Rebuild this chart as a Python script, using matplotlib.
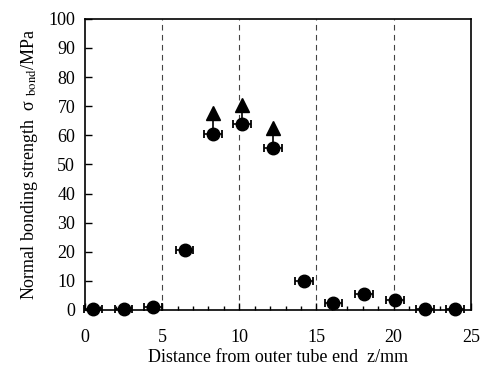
import matplotlib
matplotlib.use("Agg")
import matplotlib.pyplot as plt
from matplotlib.ticker import MultipleLocator

plt.rcParams['font.family'] = ['Liberation Serif', 'DejaVu Serif']
plt.rcParams['mathtext.fontset'] = 'stix'

z = [0.55, 2.5, 4.4, 6.45, 8.3, 10.2, 12.2, 14.2, 16.1, 18.1, 20.1, 22.0, 24.0]
sigma = [0.3, 0.3, 1.0, 20.5, 60.5, 64.0, 55.5, 10.0, 2.5, 5.5, 3.5, 0.5, 0.5]
z_err = [0.58] * len(z)
z_tri = [8.3, 10.2, 12.2]
sigma_tri = [67.5, 70.5, 62.5]
sigma_tri_base = [60.5, 64.0, 55.5]
vlines = [5, 10, 15, 20]

fig = plt.figure(figsize=(4.91, 3.69), dpi=100)
ax = fig.add_axes([0.173, 0.160, 0.786, 0.789])

for v in vlines:
    ax.axvline(v, color='#444444', lw=0.8, ls=(0, (5, 4)), zorder=1)

for x, yb, yt in zip(z_tri, sigma_tri_base, sigma_tri):
    ax.plot([x, x], [yb, yt], color='black', lw=1.2, zorder=2)
ax.plot(z_tri, sigma_tri, ls='none', marker='^', ms=10, color='black', zorder=3)

ax.errorbar(z, sigma, xerr=z_err, fmt='o', ms=9, color='black',
            ecolor='black', elinewidth=1.2, capsize=3, capthick=1.3, zorder=4,
            clip_on=False)

ax.set_xlim(0, 25)
ax.set_ylim(0, 100)
ax.xaxis.set_major_locator(MultipleLocator(5))
ax.xaxis.set_minor_locator(MultipleLocator(1))
ax.yaxis.set_major_locator(MultipleLocator(10))
ax.tick_params(direction='in', which='major', length=5, width=1, labelsize=13)
ax.tick_params(direction='in', which='minor', length=3, width=1)
ax.tick_params(axis='x', pad=14)
ax.tick_params(axis='y', pad=7)
for s in ax.spines.values():
    s.set_linewidth(1.2)

ax.set_xlabel('Distance from outer tube end  z/mm', fontsize=13, labelpad=2)
ax.set_ylabel('Normal bonding strength  σ $_{\\mathrm{bond}}$/MPa', fontsize=13, labelpad=6)

fig.savefig('out.png', dpi=100)
